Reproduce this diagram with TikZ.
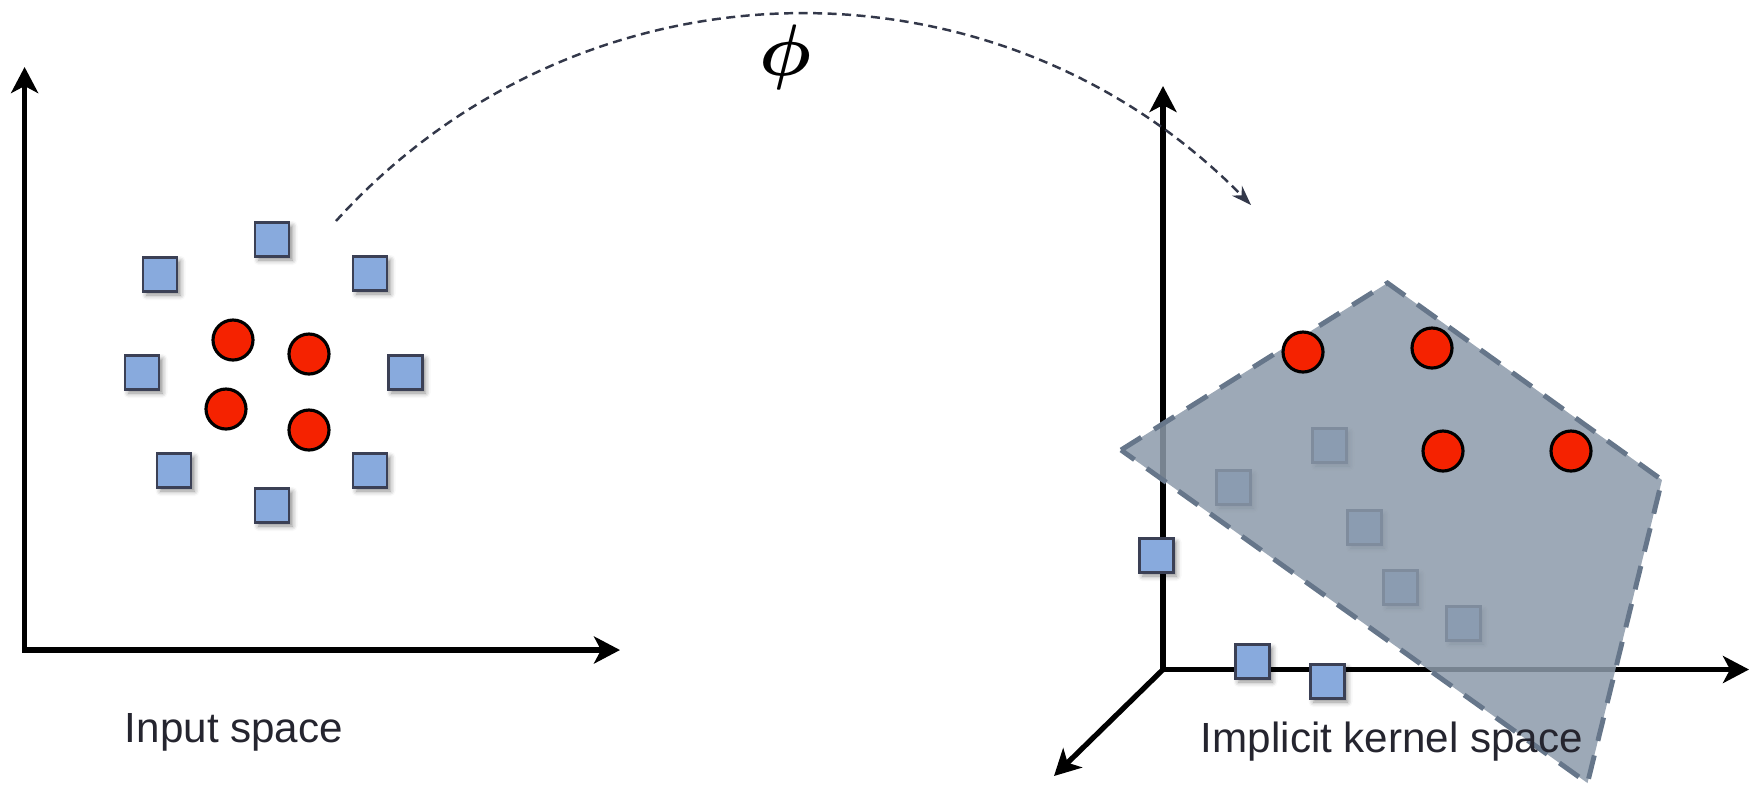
\documentclass[tikz,border=0pt]{standalone}
\usepackage{fontspec}
\setmainfont{Liberation Sans}
\usetikzlibrary{arrows.meta,shadows.blur}
\definecolor{sqblue}{HTML}{88AADD}
\definecolor{sqedge}{HTML}{3B4055}
\definecolor{ptred}{HTML}{F52200}
\definecolor{planefill}{HTML}{8C9AAA}
\definecolor{planeedge}{HTML}{66768A}
\definecolor{phigray}{HTML}{33384A}
\definecolor{lblgray}{HTML}{25252F}
\begin{document}
\begin{tikzpicture}[x=0.1mm,y=-0.1mm,line join=miter,
	>={Stealth[length=2.6mm,width=2.7mm,inset=0.7mm]},
	ax/.style={line width=1.5pt},
	bluesq/.style={draw=sqedge,line width=0.85pt,fill=sqblue,minimum size=3.4mm,inner sep=0pt,
		blur shadow={shadow xshift=0.35mm,shadow yshift=-0.4mm,shadow blur radius=0.5mm,shadow opacity=45}},
	redpt/.style={circle,draw=black,line width=0.9pt,fill=ptred,minimum size=4mm,inner sep=0pt},
	lbl/.style={font=\fontsize{12}{14}\selectfont,text=lblgray,anchor=base}]
	\useasboundingbox(0,0)rectangle(1751,786);
	% input space
	\coordinate(lo)at(24.6,650);
	\coordinate(ly)at(24.6,67);
	\coordinate(lx)at(620,650);
	\draw[ax,<->](ly)--(lo)--(lx);
	\foreach \n/\x/\y in {1/272/239,2/160/274,3/370/273,4/142/372,5/405/372,6/174/470,7/370/470,8/272/505}
		\node[bluesq](sa\n)at(\x,\y){};
	\foreach \n/\x/\y in {1/233/340,2/309/354,3/226/409,4/309/430}
		\node[redpt](ca\n)at(\x,\y){};
	\node[lbl](inlbl)at(234,742){Input space};
	% kernel space
	\coordinate(ko)at(1163,669.5);
	\coordinate(ky)at(1163,86);
	\coordinate(kx)at(1749,669.5);
	\coordinate(kz)at(1054,776);
	\draw[ax,<->](ky)--(ko)--(kx);
	\draw[ax,->](ko)--(kz);
	\foreach \n/\x/\y in {1/1329/445,2/1233/487,3/1364/527,4/1400/587,5/1463/623}
		\node[bluesq](sf\n)at(\x,\y){};
	\path[fill=planefill,fill opacity=0.85,draw=planeedge,line width=1.4pt,dash pattern=on 2.4mm off 1.5mm]
		(1121,450)--(1387.5,283)--(1662,480)--(1587.5,783)--cycle;
	\foreach \n/\x/\y in {1/1303/352,2/1432/348,3/1443/451,4/1571/451}
		\node[redpt](cb\n)at(\x,\y){};
	\foreach \n/\x/\y in {1/1156/555,2/1252/661,3/1327/681}
		\node[bluesq](sb\n)at(\x,\y){};
	\node[lbl](kerlbl)at(1392,752){Implicit kernel space};
	% the map
	\coordinate(phistart)at(336,221);
	\coordinate(phiend)at(1251,205);
	\draw[phigray,line width=0.7pt,dash pattern=on 0.9mm off 0.55mm,-{Stealth[length=2mm,width=1.4mm]}]
		(phistart)..controls+(244.7,-270)and+(-255,-259.7)..(phiend);
	\node[font=\fontsize{21}{24}\selectfont\boldmath](phi)at(785,57){$\phi$};
\end{tikzpicture}
\end{document}
